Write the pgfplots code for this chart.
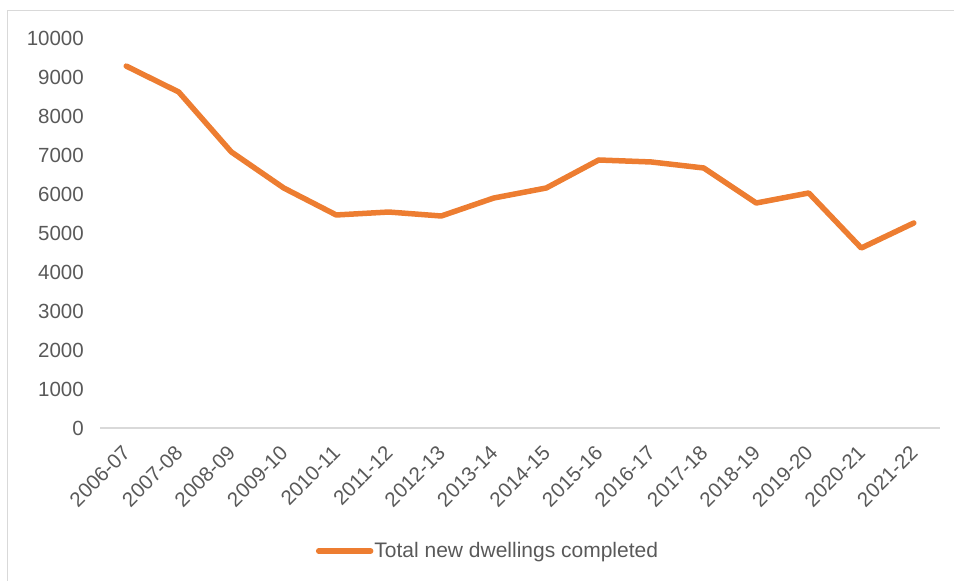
\documentclass[border=0pt]{standalone}
\usepackage{pgfplots}
\pgfplotsset{compat=1.18}
\usepackage{fontspec}
\setmainfont{Liberation Sans}
\definecolor{lineorange}{HTML}{ED7D31}
\definecolor{txtgray}{HTML}{595959}
\definecolor{axgray}{HTML}{D9D9D9}
\begin{document}
\begin{tikzpicture}
\useasboundingbox (0,0) rectangle (954bp,581bp);
\draw[axgray, line width=1.5bp] (7.5bp,0bp) -- (7.5bp,570.5bp) -- (954bp,570.5bp);
\begin{axis}[
  at={(100bp,153bp)}, anchor=south west,
  scale only axis,
  width=840bp, height=390bp,
  xmin=-0.5, xmax=15.5,
  ymin=0, ymax=10000,
  ytick={0,1000,...,10000},
  xtick={0,...,15},
  xticklabels={2006-07,2007-08,2008-09,2009-10,2010-11,2011-12,2012-13,2013-14,2014-15,2015-16,2016-17,2017-18,2018-19,2019-20,2020-21,2021-22},
  axis x line*=bottom,
  axis y line*=left,
  x axis line style={axgray, line width=1.2bp},
  y axis line style={draw=none},
  major tick length=0pt,
  /pgf/number format/assume math mode=true,
  /pgf/number format/1000 sep={},
  scaled y ticks=false,
  tick label style={font=\fontsize{20.5bp}{24bp}\selectfont, text=txtgray},
  y tick label style={anchor=east, inner sep=0pt, xshift=-16bp},
  x tick label style={yshift=-21bp, xshift=1bp, rotate=45, anchor=east, inner sep=1bp},
  legend style={at={(0.4613,-0.3154)}, anchor=center, draw=none, fill=none,
    font=\fontsize{21bp}{25bp}\selectfont, text=txtgray,
    nodes={inner sep=1bp}},
  legend image code/.code={\draw[lineorange, line width=5.5bp, line cap=round] (0bp,0bp) -- (52bp,0bp);},
  clip=false,
]
\addplot[lineorange, line width=5.5bp, line join=round, line cap=round] coordinates {
(0,9280) (1,8615) (2,7080) (3,6154) (4,5462) (5,5538) (6,5436) (7,5897)
(8,6154) (9,6872) (10,6821) (11,6667) (12,5769) (13,6026) (14,4615) (15,5256)
};
\addlegendentry{Total new dwellings completed}
\end{axis}
\end{tikzpicture}
\end{document}
